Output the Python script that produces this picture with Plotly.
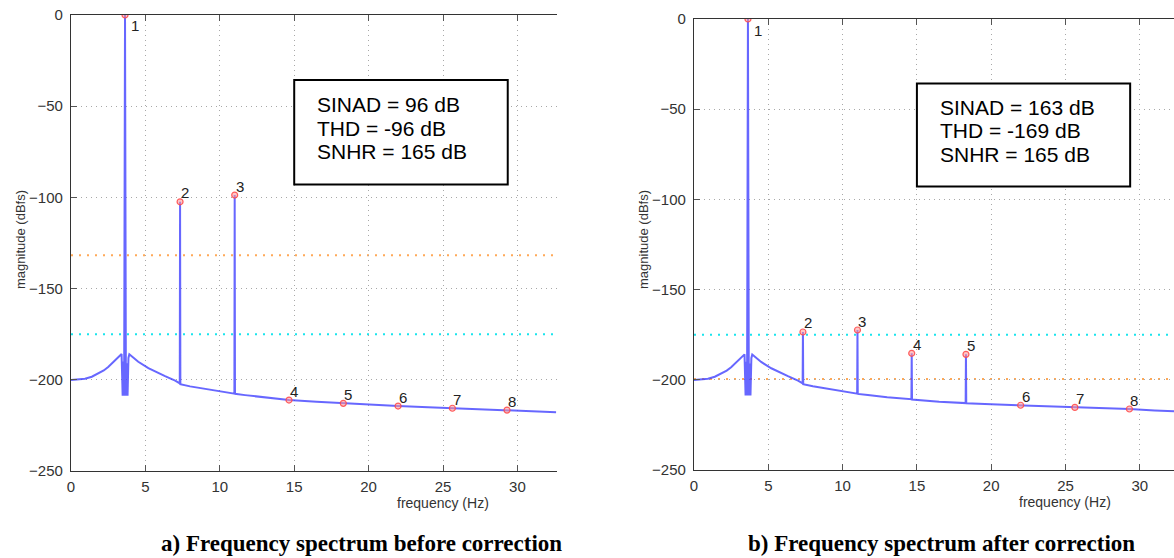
import plotly.graph_objects as go

# ---------------- data ----------------
freq_a = [0.0, 0.5, 0.94, 1.4, 1.84, 2.2, 2.5, 2.85, 3.18, 3.40, 3.47, 3.52, 3.57, 3.63, 3.69, 3.74,
          3.80, 3.86, 3.92, 4.2, 4.52, 5.2, 5.7, 6.32, 7.0, 7.31, 7.33, 7.35, 8.0, 9.0, 10.0,
          10.98, 11.0, 11.02, 11.7, 13.0, 14.65, 16.5, 18.3, 20.0, 21.98, 24.0, 25.63, 27.5,
          29.3, 31.0, 32.6]
mag_a = [-200.1, -199.9, -199.4, -198.3, -196.6, -194.9, -193.0, -190.4, -187.5, -185.9, -208.7,
         -190.0, -208.7, 0.0, -208.7, -191.0, -208.7, -188.0, -186.0, -188.0, -190.1, -193.6,
         -195.7, -198.0, -200.5, -202.0, -102.4, -202.4, -203.6, -205.0, -206.4, -207.6, -98.7,
         -207.7, -208.4, -209.7, -211.1, -212.1, -212.9, -213.7, -214.4, -215.0, -215.6, -216.1,
         -216.6, -217.2, -217.8]

freq_b = [0.0, 0.5, 0.94, 1.4, 1.84, 2.2, 2.5, 2.85, 3.18, 3.40, 3.47, 3.52, 3.57, 3.63, 3.69, 3.74,
          3.80, 3.86, 3.92, 4.2, 4.52, 5.2, 5.7, 6.32, 7.0, 7.31, 7.33, 7.35, 8.0, 9.0, 10.0,
          10.98, 11.0, 11.02, 11.7, 13.0, 14.63, 14.65, 14.67, 16.5, 18.28, 18.3, 18.32, 20.0,
          21.98, 24.0, 25.63, 27.5, 29.3, 31.0, 32.6]
mag_b = [-200.1, -199.9, -199.4, -198.3, -196.6, -194.9, -193.0, -190.4, -187.5, -185.9, -208.7,
         -190.0, -208.7, 0.0, -208.7, -191.0, -208.7, -188.0, -186.0, -188.0, -190.1, -193.6,
         -195.7, -198.0, -200.5, -202.0, -173.5, -202.4, -203.6, -205.0, -206.4, -207.7, -172.4,
         -207.8, -208.4, -209.7, -210.8, -185.3, -210.9, -212.1, -212.9, -185.9, -213.0, -213.6,
         -214.1, -214.8, -215.3, -215.8, -216.2, -217.0, -217.6]

harm_freq = [3.63, 7.33, 11.0, 14.65, 18.3, 21.98, 25.63, 29.3]
harm_mag_a = [0.0, -102.4, -98.7, -211.1, -212.9, -214.4, -215.6, -216.6]
harm_mag_b = [0.0, -173.5, -172.4, -185.3, -185.9, -214.1, -215.3, -216.2]
harm_labels = ["1", "2", "3", "4", "5", "6", "7", "8"]

level_orange_a = -131.7
level_cyan_a = -175.0
level_orange_b = -199.5
level_cyan_b = -175.0

stats_a = ["SINAD = 96 dB", "THD = -96 dB", "SNHR = 165 dB"]
stats_b = ["SINAD = 163 dB", "THD = -169 dB", "SNHR = 165 dB"]
stats_y = [-49, -62, -75]

x_ticks = [0, 5, 10, 15, 20, 25, 30]
y_ticks = [0, -50, -100, -150, -200, -250]

caption_a = "a) Frequency spectrum before correction"
caption_b = "b) Frequency spectrum after correction"
x_title = "frequency (Hz)"
y_title = "magnitude (dBfs)"

# ---------------- styling ----------------
W, H = 1174, 558
LINE_BLUE = "rgba(60,60,255,0.78)"
TICK_FONT = dict(family="Liberation Sans, Arial, sans-serif", size=15, color="#333333")
GRID = "#a8a8a8"

fig = go.Figure()

panels = [
    dict(xa="x", ya="y", fx=freq_a, fy=mag_a, hy=harm_mag_a, orange=level_orange_a,
         cyan=level_cyan_a, stats=stats_a),
    dict(xa="x2", ya="y2", fx=freq_b, fy=mag_b, hy=harm_mag_b, orange=level_orange_b,
         cyan=level_cyan_b, stats=stats_b),
]

shapes = []
annotations = []
for i, p in enumerate(panels):
    fig.add_trace(go.Scatter(x=p["fx"], y=p["fy"], mode="lines", xaxis=p["xa"], yaxis=p["ya"],
                             line=dict(color=LINE_BLUE, width=2), showlegend=False,
                             hoverinfo="skip"))
    fig.add_trace(go.Scatter(x=harm_freq, y=p["hy"], mode="markers", xaxis=p["xa"], yaxis=p["ya"],
                             marker=dict(symbol="circle", size=6, color="rgba(255,150,150,0.55)",
                                         line=dict(color="rgba(255,70,70,0.85)", width=1.2)),
                             showlegend=False))
    # reference levels
    for lvl, col in [(p["orange"], "rgba(255,160,70,0.9)"), (p["cyan"], "rgba(0,225,235,0.9)")]:
        shapes.append(dict(type="line", xref=f"{p['xa']} domain", x0=0, x1=1, yref=p["ya"],
                           y0=lvl, y1=lvl, line=dict(color=col, width=2, dash="2px,6px"),
                           layer="below"))
    # stats box
    shapes.append(dict(type="rect", xref=p["xa"], yref=p["ya"], x0=15.0, x1=29.35, y0=-35.7,
                       y1=-92.9, line=dict(color="black", width=2), fillcolor="white"))
    for txt, yy in zip(p["stats"], stats_y):
        annotations.append(dict(xref=p["xa"], yref=p["ya"], x=16.42, y=yy, text=txt,
                                showarrow=False, xanchor="left", yanchor="middle",
                                font=dict(family="Liberation Sans, Arial, sans-serif", size=21,
                                          color="black")))
    # harmonic labels
    for k, (hx, hy, lab) in enumerate(zip(harm_freq, p["hy"], harm_labels)):
        if k == 0:
            xs, ys = 10, -11
        else:
            xs, ys = 5, 9
        annotations.append(dict(xref=p["xa"], yref=p["ya"], x=hx, y=hy, text=lab,
                                showarrow=False, xanchor="center", yanchor="middle",
                                xshift=xs, yshift=ys,
                                font=dict(family="Liberation Sans, Arial, sans-serif", size=15,
                                          color="#222222")))

# axis titles and captions
for xp, yp in [(20, 240), (643, 240)]:
    annotations.append(dict(xref="paper", yref="paper", x=xp / W, y=1 - yp / H, text=y_title,
                            textangle=-90, showarrow=False, xanchor="center", yanchor="middle",
                            font=dict(family="Liberation Sans, Arial, sans-serif", size=13,
                                      color="#333333")))
for xp, yp in [(443, 503), (1065, 502)]:
    annotations.append(dict(xref="paper", yref="paper", x=xp / W, y=1 - yp / H, text=x_title,
                            showarrow=False, xanchor="center", yanchor="middle",
                            font=dict(family="Liberation Sans, Arial, sans-serif", size=14,
                                      color="#333333")))
for txt, xp in [(caption_a, 361), (caption_b, 941.5)]:
    annotations.append(dict(xref="paper", yref="paper", x=xp / W, y=1 - 543 / H,
                            text=f"<b>{txt}</b>", showarrow=False, xanchor="center",
                            yanchor="middle",
                            font=dict(family="Liberation Serif, Times New Roman, serif", size=23,
                                      color="black")))


def xaxis(domain, rng):
    return dict(domain=domain, range=rng, tickvals=x_ticks, ticks="inside", ticklen=6,
                tickcolor="#555555", showline=True, linecolor="#333333", linewidth=1.3,
                mirror="ticks", showgrid=True, gridcolor=GRID, griddash="1px,4px", gridwidth=1,
                zeroline=False, tickfont=TICK_FONT, ticklabelstandoff=2, fixedrange=True,
                automargin=False)


def yaxis(domain, anchor):
    return dict(domain=domain, range=[-250, 0], tickvals=y_ticks, ticks="inside", ticklen=6,
                tickcolor="#555555", showline=True, linecolor="#333333", linewidth=1.3,
                mirror=False, showgrid=True, gridcolor=GRID, griddash="1px,4px", gridwidth=1,
                zeroline=False, tickfont=TICK_FONT, anchor=anchor, ticklabelstandoff=4,
                fixedrange=True, automargin=False)


xa1 = xaxis([71 / W, 556.7 / W], [0, 32.64])
xa1["anchor"] = "y"
xa2 = xaxis([694 / W, 1.0], [0, 32.3])
xa2["anchor"] = "y2"

fig.update_layout(
    width=W, height=H,
    margin=dict(l=0, r=0, t=0, b=0, autoexpand=False),
    paper_bgcolor="white", plot_bgcolor="white",
    xaxis=xa1, yaxis=yaxis([1 - 471 / H, 1 - 15 / H], "x"),
    xaxis2=xa2, yaxis2=yaxis([1 - 470 / H, 1 - 19 / H], "x2"),
    shapes=shapes, annotations=annotations,
    showlegend=False,
)

fig.write_html("out.html", config={"displayModeBar": False},
               post_script="document.body.style.margin='0';document.body.style.overflow='hidden';")
